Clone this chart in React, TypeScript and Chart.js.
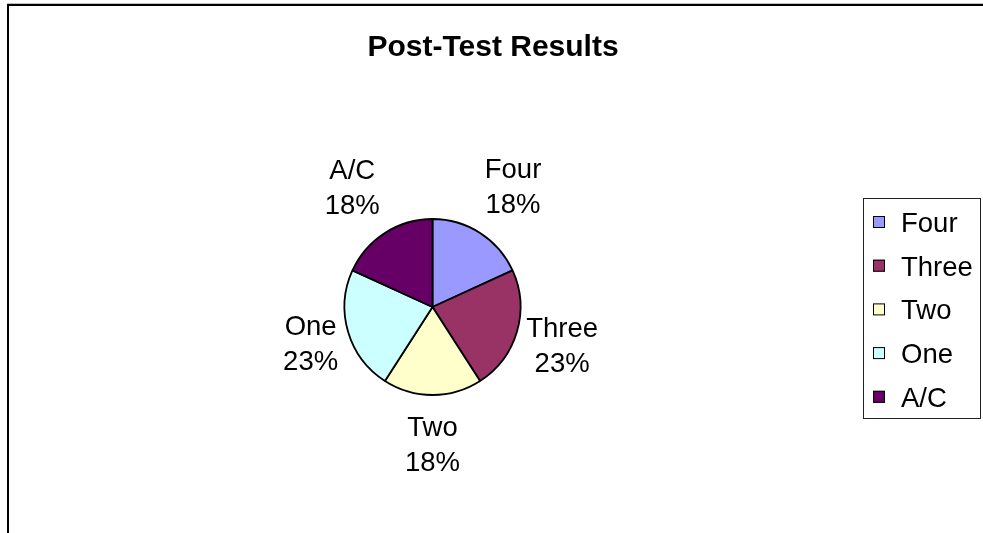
import React, { useEffect, useRef } from "react";
import { Chart, registerables } from "chart.js";

Chart.register(...registerables);

const TITLE = "Post-Test Results";
const CATEGORIES = ["Four", "Three", "Two", "One", "A/C"];
const VALUES = [4, 5, 4, 5, 4];
const COLORS = ["#9999FF", "#993366", "#FFFFCC", "#CCFFFF", "#660066"];

const FONT = '"Liberation Sans", Arial, sans-serif';

const decorPlugin = {
  id: "decor",
  afterDatasetsDraw(chart: any) {
    const ctx = chart.ctx as CanvasRenderingContext2D;
    const meta = chart.getDatasetMeta(0);
    const data = chart.data.datasets[0].data as number[];
    const total = data.reduce((a, b) => a + b, 0);
    const size = 27.5;
    const lineH = 35;
    ctx.save();
    ctx.font = `${size}px ${FONT}`;
    ctx.fillStyle = "#000";
    ctx.textAlign = "center";
    ctx.textBaseline = "alphabetic";
    meta.data.forEach((arc: any, i: number) => {
      const p = arc.getProps(["x", "y", "startAngle", "endAngle", "outerRadius"], true);
      const mid = (p.startAngle + p.endAngle) / 2;
      const lines = [String(chart.data.labels[i]), Math.round((data[i] / total) * 100) + "%"];
      const w = Math.max(...lines.map((l) => ctx.measureText(l).width));
      const c = Math.cos(mid);
      const s = Math.sin(mid);
      const d = p.outerRadius - 4 + Math.abs(c) * w / 2 + Math.abs(s) * 53;
      const cx = p.x + d * c + Math.abs(s) * c * 6;
      const cy = p.y + d * s;
      const cap = 0.716 * size;
      ctx.fillText(lines[0], cx, cy - lineH / 2 + cap / 2);
      ctx.fillText(lines[1], cx, cy + lineH / 2 + cap / 2);
    });
    ctx.restore();
  },
  afterDraw(chart: any) {
    const ctx = chart.ctx as CanvasRenderingContext2D;
    ctx.save();
    // outer frame (top and left edges visible)
    ctx.fillStyle = "#000";
    ctx.fillRect(7, 4, 983, 2);
    ctx.fillRect(7, 4, 2, 533);
    ctx.fillStyle = "#c0c0c0";
    ctx.fillRect(7, 3, 983, 1);
    // title
    ctx.fillStyle = "#000";
    ctx.font = `bold 30px ${FONT}`;
    ctx.textAlign = "center";
    ctx.textBaseline = "alphabetic";
    ctx.fillText(TITLE, 493, 56);
    // legend box
    ctx.strokeStyle = "#222";
    ctx.lineWidth = 1;
    ctx.strokeRect(863.5, 198.5, 117, 220);
    const labels = chart.data.labels as string[];
    const colors = chart.data.datasets[0].backgroundColor as string[];
    ctx.font = `27.5px ${FONT}`;
    ctx.textAlign = "left";
    labels.forEach((l, i) => {
      const cy = 222 + i * 43.7;
      ctx.fillStyle = colors[i];
      ctx.fillRect(873, cy - 6, 12, 12);
      ctx.strokeStyle = "#000";
      ctx.strokeRect(873.5, cy - 5.5, 11, 11);
      ctx.fillStyle = "#000";
      ctx.fillText(l, 901, cy + 0.716 * 27.5 / 2);
    });
    ctx.restore();
  },
};

export default function App() {
  const ref = useRef<HTMLCanvasElement | null>(null);
  useEffect(() => {
    if (!ref.current) return;
    const chart = new Chart(ref.current, {
      type: "pie",
      data: {
        labels: CATEGORIES,
        datasets: [
          {
            data: VALUES,
            backgroundColor: COLORS,
            borderColor: "#000",
            borderWidth: 1.8,
            radius: 88,
          } as any,
        ],
      },
      options: {
        animation: false,
        responsive: false,
        layout: { padding: { left: 300, right: 418, top: 200, bottom: 119 } },
        plugins: {
          legend: { display: false },
          title: { display: false },
          tooltip: { enabled: false },
        },
      },
      plugins: [decorPlugin],
    });
    return () => chart.destroy();
  }, []);
  return (
    <div style={{ position: "absolute", left: 0, top: 0, width: 983, height: 533, background: "#fff" }}>
      <canvas ref={ref} width={983} height={533} style={{ display: "block" }} />
    </div>
  );
}
